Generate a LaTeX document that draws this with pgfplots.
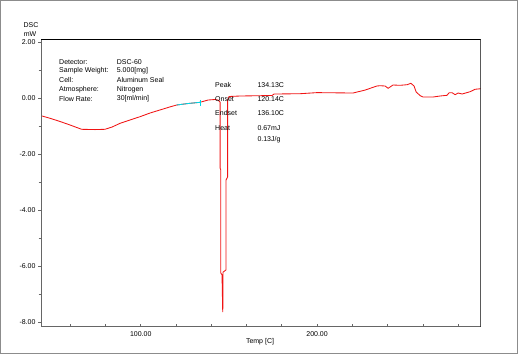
\documentclass[border=0pt]{standalone}
\usepackage{pgfplots}
\pgfplotsset{compat=1.18}
\usepackage{fontspec}
\setmainfont{Liberation Sans}
\definecolor{dscred}{RGB}{240,20,20}
\definecolor{dsccyan}{RGB}{0,215,230}
\begin{document}
\begin{tikzpicture}[x=1pt,y=1pt,font=\fontsize{7}{8}\selectfont]
\useasboundingbox (0,0) rectangle (518,354);
\draw[gray!90,line width=1pt] (0.5,0.5) rectangle (517.5,353.5);
\begin{axis}[
  at={(41pt,27.3pt)}, anchor=south west,
  scale only axis, width=439.7pt, height=287.7pt,
  xmin=43.45, xmax=292.8, ymin=-8.15, ymax=2.125,
  axis line style={draw=none},
  xtick={100,200}, xticklabels={100.00,200.00},
  minor xtick={60,80,120,140,160,180,220,240,260,280},
  ytick={-8,-6,-4,-2,0,2}, yticklabels={-8.00,-6.00,-4.00,-2.00,0.00,2.00},
  minor ytick={-7,-5,-3,-1,1},
  xtick align=inside, ytick align=outside,
  major tick length=3pt, minor tick length=2.5pt,
  tick style={gray!80!black, line width=0.6pt},
  minor tick style={gray!80!black, line width=0.6pt},
  xtick pos=bottom, ytick pos=left,
  ticklabel style={font=\fontsize{7}{8}\selectfont},
  yticklabel style={xshift=1pt},
  xticklabel style={yshift=-1pt},
  clip=true,
]
\addplot[dscred, line width=0.85pt] coordinates {
(43.45,-0.614) (48.6,-0.707) (54.2,-0.82) (59.9,-0.946) (66.5,-1.10) (74.1,-1.11)
(79.7,-1.10) (83.7,-1.02) (88.3,-0.886) (93.9,-0.768) (99.6,-0.65) (105.3,-0.518)
(110.9,-0.41) (116.6,-0.30) (120.4,-0.232) (126.8,-0.179) (133.6,-0.136)
(138.2,-0.054) (142.1,-0.036) (143.8,-0.054)
(145.0,-0.125) (145.0,-2.48) (145.4,-2.55) (145.4,-6.23) (146.1,-6.30) (146.5,-7.63)
(146.7,-7.20) (146.7,-6.20) (148.4,-6.12) (148.4,-2.91) (149.3,-2.80) (149.3,-0.054)
(150.1,0.071) (156.3,0.089) (174.5,0.107) (175.6,0.16) (190.4,0.171) (200.0,0.21)
(220.4,0.196) (227.2,0.30) (233.9,0.446) (235.7,0.457) (238.6,0.446) (240.3,0.364)
(243.1,0.482) (247.1,0.471) (251.1,0.493) (253.2,0.543) (255.0,0.446) (256.2,0.232)
(258.5,0.10) (260.1,0.054) (265.8,0.054) (269.8,0.089) (273.7,0.114) (274.9,0.207)
(276.6,0.207) (278.3,0.136) (280.0,0.196) (282.3,0.161) (286.8,0.243) (289.6,0.329)
(292.8,0.35)
};
\addplot[dsccyan, line width=0.85pt] coordinates {
(120.4,-0.232) (126.8,-0.179) (133.6,-0.136)
};
\addplot[dsccyan, line width=0.7pt] coordinates {(133.6,-0.05) (133.6,-0.25)};
\draw[gray!80!black, line width=0.8pt] (rel axis cs:0,1) -- (rel axis cs:0,0) -- (rel axis cs:1,0);
\draw[black, line width=1pt] (rel axis cs:0,1) -- (rel axis cs:1,1);
\draw[black, line width=1.4pt] (rel axis cs:1,1) -- (rel axis cs:1,0);
\end{axis}
% axis titles
\node at (31,329) {DSC};
\node at (30,320) {mW};
\node at (260,12.3) {Temp [C]};
% info box
\node[anchor=west,inner sep=0pt] at (59,291.7) {Detector:};
\node[anchor=west,inner sep=0pt] at (59,283) {Sample Weight:};
\node[anchor=west,inner sep=0pt] at (59,274) {Cell:};
\node[anchor=west,inner sep=0pt] at (59,264.5) {Atmosphere:};
\node[anchor=west,inner sep=0pt] at (59,255) {Flow Rate:};
\node[anchor=west,inner sep=0pt] at (116.7,291.7) {DSC-60};
\node[anchor=west,inner sep=0pt] at (116.7,283) {5.000[mg]};
\node[anchor=west,inner sep=0pt] at (116.7,274) {Aluminum Seal};
\node[anchor=west,inner sep=0pt] at (116.7,264.5) {Nitrogen};
\node[anchor=west,inner sep=0pt] at (116.7,255) {30[ml/min]};
% peak annotations
\node[anchor=west,inner sep=0pt] at (215,269) {Peak};
\node[anchor=west,inner sep=0pt] at (215,254.7) {Onset};
\node[anchor=west,inner sep=0pt] at (215,240.7) {Endset};
\node[anchor=west,inner sep=0pt] at (215,226.3) {Heat};
\node[anchor=west,inner sep=0pt] at (257.3,269) {134.13C};
\node[anchor=west,inner sep=0pt] at (257.3,254.7) {120.14C};
\node[anchor=west,inner sep=0pt] at (257.3,240.7) {136.10C};
\node[anchor=west,inner sep=0pt] at (257.3,226) {0.67mJ};
\node[anchor=west,inner sep=0pt] at (257.3,214.7) {0.13J/g};
\end{tikzpicture}
\end{document}
